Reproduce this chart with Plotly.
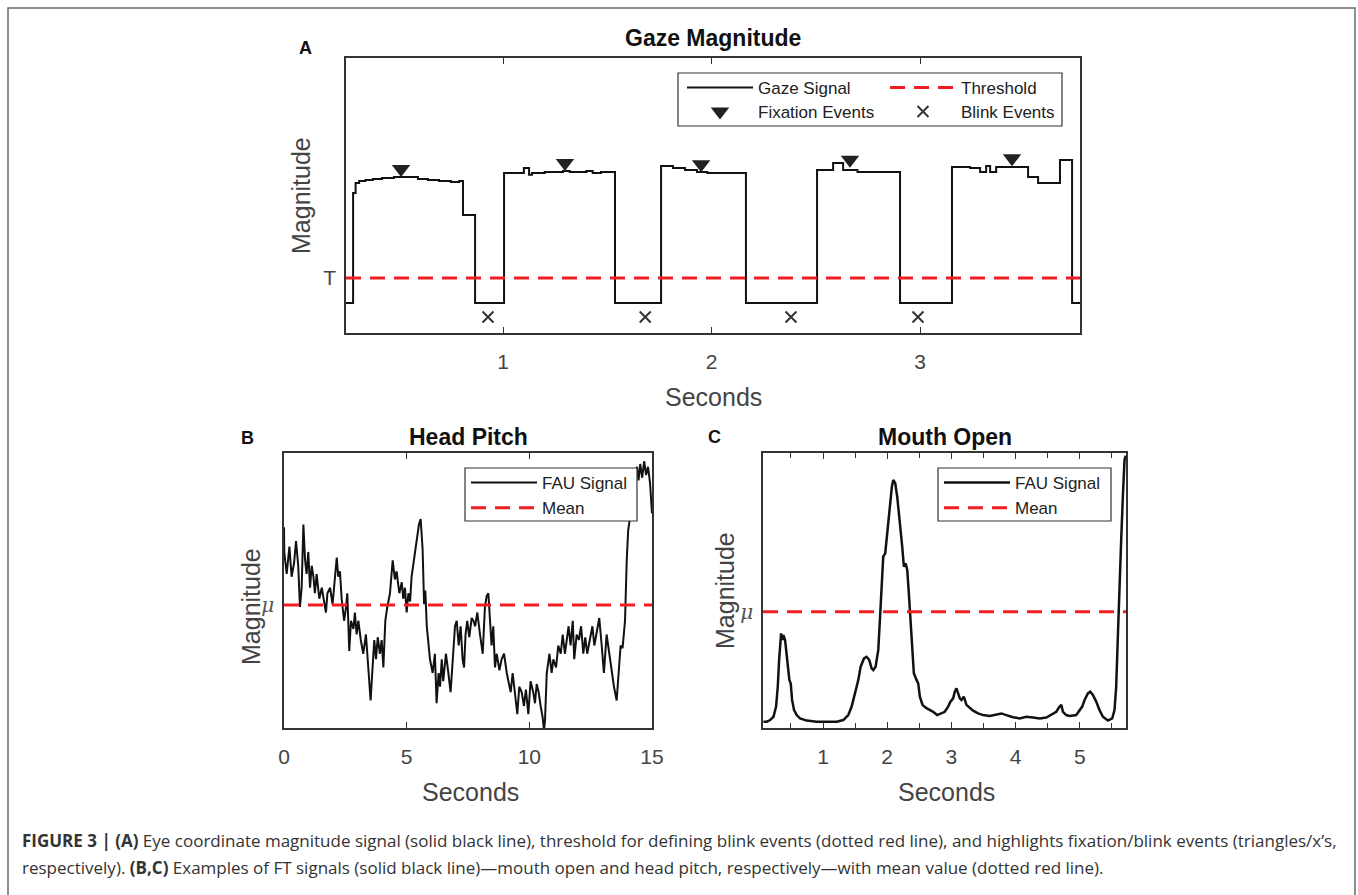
import plotly.graph_objects as go

W, H = 1358, 895

# ---------------- Panel A: Gaze Magnitude ----------------
gaze_t = [0.247, 0.281, 0.293, 0.310, 0.340, 0.376, 0.420, 0.477, 0.520, 0.592, 0.640,
          0.693, 0.750, 0.790, 0.808, 0.866, 1.005, 1.100, 1.125, 1.139, 1.200, 1.288,
          1.320, 1.400, 1.430, 1.470, 1.537, 1.758, 1.815, 1.873, 1.930, 1.980, 2.165,
          2.506, 2.583, 2.631, 2.700, 2.904, 3.153, 3.240, 3.288, 3.317, 3.336, 3.365,
          3.451, 3.518, 3.566, 3.671, 3.729, 3.767]
gaze_v = [10.9, 50.9, 54.5, 55.3, 55.6, 56.0, 56.4, 56.7, 56.7, 56.0, 55.6,
          55.3, 54.9, 55.3, 42.9, 10.9, 58.2, 60.0, 57.5, 58.2, 58.5, 58.9,
          58.5, 58.9, 58.2, 58.5, 10.9, 60.7, 60.0, 59.3, 58.5, 58.2, 10.9,
          59.3, 61.8, 59.3, 58.5, 10.9, 60.4, 60.0, 58.5, 60.7, 58.5, 60.4,
          60.4, 56.7, 54.5, 62.9, 10.9, 10.9]
gaze_threshold = 20.0
fixation_t = [0.511, 1.297, 1.950, 2.664, 3.441]
fixation_v = [59.6, 61.8, 61.4, 63.0, 63.5]
blink_t = [0.928, 1.682, 2.381, 2.990]
blink_v = [5.8, 5.8, 5.8, 5.8]
a_xrange = [0.247, 3.767]
a_xticks = [1, 2, 3]

# ---------------- Panel B: Head Pitch ----------------
pitch_t = [0.00, 0.01, 0.11, 0.22, 0.31, 0.41, 0.49, 0.58, 0.65, 0.72, 0.79, 0.86, 0.92, 0.99,
           1.06, 1.13, 1.20, 1.26, 1.33, 1.44, 1.54, 1.60, 1.71, 1.77, 1.88, 1.98, 2.08, 2.15,
           2.21, 2.28, 2.35, 2.45, 2.53, 2.58, 2.66, 2.73, 2.83, 2.89, 2.96, 3.03, 3.13, 3.23,
           3.34, 3.44, 3.53, 3.61, 3.68, 3.75, 3.82, 3.91, 3.98, 4.05, 4.13, 4.21, 4.32, 4.43,
           4.52, 4.59, 4.70, 4.80, 4.86, 4.93, 5.00, 5.07, 5.14, 5.20, 5.30, 5.41, 5.50, 5.57,
           5.65, 5.71, 5.76, 5.82, 5.88, 5.95, 6.06, 6.15, 6.22, 6.30, 6.36, 6.43, 6.49, 6.60,
           6.70, 6.79, 6.88, 6.97, 7.04, 7.12, 7.20, 7.28, 7.34, 7.40, 7.47, 7.55, 7.65, 7.72,
           7.79, 7.88, 7.99, 8.10, 8.19, 8.26, 8.33, 8.40, 8.46, 8.53, 8.60, 8.67, 8.78, 8.87,
           8.97, 9.08, 9.16, 9.24, 9.32, 9.42, 9.51, 9.59, 9.69, 9.78, 9.86, 9.96, 10.05, 10.16,
           10.23, 10.30, 10.38, 10.46, 10.54, 10.60, 10.64, 10.71, 10.82, 10.91, 10.98, 11.09,
           11.18, 11.28, 11.36, 11.45, 11.52, 11.60, 11.68, 11.77, 11.83, 11.93, 12.02, 12.11,
           12.20, 12.28, 12.36, 12.47, 12.57, 12.65, 12.74, 12.85, 12.95, 13.04, 13.15, 13.25,
           13.36, 13.45, 13.56, 13.65, 13.72, 13.80, 13.90, 13.97, 14.03, 14.13, 14.24, 14.32,
           14.39, 14.45, 14.52, 14.60, 14.68, 14.76, 14.84, 14.92, 15.00]
pitch_v = [73, 64, 56, 66, 55, 60, 68, 59, 44, 51, 74, 61, 56, 64,
           51, 59, 55, 49, 56, 47, 51, 48, 42, 49, 51, 45, 56, 62,
           55, 57, 47, 39, 44, 49, 28, 39, 36, 42, 34, 39, 32, 27,
           34, 20, 10, 22, 32, 25, 33, 27, 32, 22, 39, 44, 49, 61,
           54, 57, 49, 53, 47, 51, 42, 49, 46, 55, 61, 68, 74, 76,
           65, 45, 50, 37, 30, 25, 20, 27, 9, 20, 15, 25, 17, 27,
           20, 13, 25, 37, 39, 30, 37, 25, 22, 34, 39, 33, 40, 39,
           37, 42, 34, 27, 44, 48, 49, 39, 30, 37, 22, 27, 21, 25,
           27, 20, 17, 13, 20, 11, 5, 15, 13, 8, 14, 5, 17, 13,
           9, 16, 13, 8, 4, -1, 3, 20, 27, 20, 25, 22,
           30, 27, 34, 27, 32, 37, 30, 39, 25, 34, 32, 37,
           27, 33, 27, 33, 37, 30, 34, 40, 30, 20, 34, 27,
           20, 15, 10, 22, 30, 29, 39, 61, 72, 78, 86, 92,
           95, 90, 96, 91, 97, 92, 95, 89, 78]
pitch_mean = 44.7
b_xrange = [0, 15]
b_xticks = [0, 5, 10, 15]

# ---------------- Panel C: Mouth Open ----------------
mouth_t = [0.072, 0.124, 0.176, 0.228, 0.269, 0.295, 0.316, 0.331, 0.347, 0.368, 0.383, 0.409,
           0.435, 0.461, 0.476, 0.497, 0.518, 0.549, 0.590, 0.642, 0.746, 0.902, 1.057, 1.213,
           1.316, 1.394, 1.446, 1.498, 1.550, 1.586, 1.612, 1.638, 1.679, 1.721, 1.757, 1.783,
           1.819, 1.861, 1.897, 1.938, 1.969, 2.006, 2.042, 2.073, 2.094, 2.125, 2.156, 2.182,
           2.208, 2.234, 2.260, 2.286, 2.312, 2.337, 2.363, 2.389, 2.415, 2.457, 2.483, 2.509,
           2.550, 2.612, 2.716, 2.778, 2.846, 2.897, 2.949, 2.985, 3.027, 3.053, 3.079, 3.105,
           3.131, 3.157, 3.193, 3.234, 3.286, 3.338, 3.416, 3.494, 3.597, 3.675, 3.779, 3.856,
           3.960, 4.064, 4.167, 4.271, 4.375, 4.478, 4.556, 4.634, 4.686, 4.712, 4.738, 4.790,
           4.841, 4.945, 5.038, 5.075, 5.126, 5.163, 5.204, 5.256, 5.308, 5.360, 5.438, 5.505,
           5.541, 5.567, 5.593, 5.619, 5.645, 5.671, 5.697, 5.715]
mouth_v = [2.3, 2.3, 2.9, 4.1, 7.8, 15.0, 24.7, 32.0, 34.4, 32.0, 33.8, 32.0,
           27.2, 22.3, 17.5, 16.2, 10.2, 6.5, 4.7, 3.5, 2.7, 2.3, 2.2, 2.3,
           2.9, 4.7, 7.8, 12.6, 17.5, 22.3, 23.5, 25.3, 25.9, 24.7, 21.7, 21.1,
           22.3, 28.4, 44.1, 62.3, 63.5, 72.0, 81.7, 87.8, 90.2, 89.0, 84.1, 76.8,
           72.0, 65.9, 58.7, 59.9, 57.5, 49.0, 39.3, 29.6, 19.9, 17.5, 16.2, 11.4,
           8.4, 7.2, 5.9, 4.7, 5.3, 5.9, 7.8, 9.6, 10.8, 13.2, 14.4, 12.6,
           10.8, 10.2, 11.4, 8.4, 7.2, 6.3, 5.3, 4.7, 4.4, 4.7, 5.3, 4.7,
           3.9, 3.5, 4.1, 3.8, 3.5, 3.8, 4.7, 5.9, 7.8, 8.4, 5.9, 4.7,
           4.4, 4.7, 7.8, 10.2, 12.6, 13.2, 12.0, 9.6, 6.5, 4.1, 2.7, 3.5,
           6.5, 15.0, 33.2, 55.0, 68.4, 84.1, 97.5, 99.0]
mouth_mean = 42.3
c_xrange = [0.065, 5.72]
c_xticks = [1, 2, 3, 4, 5]

# ---------------- styling helpers ----------------
FONT = "Liberation Sans, Arial, Helvetica, sans-serif"
CAPTION_FONT = "Open Sans, Liberation Sans, sans-serif"
AX = "#333333"
RED = "#f01e23"


def px_x(p):
    return p / W


def px_y(p):
    return 1 - p / H


fig = go.Figure()

# Panel A traces
fig.add_trace(go.Scatter(x=gaze_t, y=gaze_v, mode="lines", line=dict(color="#111", width=2, shape="hv"),
                         name="Gaze Signal", xaxis="x", yaxis="y", legend="legend"))
fig.add_trace(go.Scatter(x=a_xrange, y=[gaze_threshold, gaze_threshold], mode="lines",
                         line=dict(color=RED, width=3, dash="15px,9px"),
                         name="Threshold", xaxis="x", yaxis="y", legend="legend"))
fig.add_trace(go.Scatter(x=fixation_t, y=fixation_v, mode="markers",
                         marker=dict(symbol="triangle-down", size=16, color="#222"),
                         name="Fixation Events", xaxis="x", yaxis="y", legend="legend2"))
fig.add_trace(go.Scatter(x=blink_t, y=blink_v, mode="markers",
                         marker=dict(symbol="x-thin", size=11, line=dict(color="#333", width=2)),
                         name="Blink Events", xaxis="x", yaxis="y", legend="legend2"))

# Panel B traces
fig.add_trace(go.Scatter(x=pitch_t, y=pitch_v, mode="lines", line=dict(color="#111", width=2),
                         name="FAU Signal", xaxis="x2", yaxis="y2", legend="legend3"))
fig.add_trace(go.Scatter(x=b_xrange, y=[pitch_mean, pitch_mean], mode="lines",
                         line=dict(color=RED, width=3, dash="15px,9px"),
                         name="Mean", xaxis="x2", yaxis="y2", legend="legend3"))

# Panel C traces
fig.add_trace(go.Scatter(x=mouth_t, y=mouth_v, mode="lines", line=dict(color="#111", width=2.5),
                         name="FAU Signal", xaxis="x3", yaxis="y3", legend="legend4"))
fig.add_trace(go.Scatter(x=c_xrange, y=[mouth_mean, mouth_mean], mode="lines",
                         line=dict(color=RED, width=3, dash="15px,9px"),
                         name="Mean", xaxis="x3", yaxis="y3", legend="legend4"))


def xax(domain, rng, ticks, anchor, minor=None):
    d = dict(domain=domain, range=rng, tickvals=ticks, ticks="inside", ticklen=6, tickwidth=1.2,
             tickcolor=AX, showline=True, linecolor=AX, linewidth=1.5, mirror="ticks",
             showgrid=False, zeroline=False, anchor=anchor, ticklabelstandoff=9,
             tickfont=dict(family=FONT, size=21, color="#444"))
    if minor:
        d["minor"] = minor
    return d


def yax(domain, tickval, ticktext, anchor, tickfont):
    return dict(domain=domain, range=[0, 100], tickvals=[tickval], ticktext=[ticktext], ticks="",
                showline=True, linecolor=AX, linewidth=1.5, mirror=True, showgrid=False,
                zeroline=False, anchor=anchor, tickfont=tickfont, ticklabelstandoff=4)


a_dom_x = [px_x(346), px_x(1080)]
a_dom_y = [px_y(333), px_y(58)]
b_dom_x = [px_x(284), px_x(652)]
c_dom_x = [px_x(763), px_x(1126)]
bc_dom_y = [px_y(728), px_y(453)]

mu_font = dict(family="DejaVu Serif, serif", size=20, color="#555")

layout = dict(
    width=W, height=H, margin=dict(l=0, r=0, t=0, b=0, autoexpand=False),
    paper_bgcolor="white", plot_bgcolor="white",
    xaxis=xax(a_dom_x, a_xrange, a_xticks, "y"),
    yaxis=yax(a_dom_y, gaze_threshold, "T", "x", dict(family=FONT, size=21, color="#444")),
    xaxis2=xax(b_dom_x, b_xrange, b_xticks, "y2"),
    yaxis2=yax(bc_dom_y, pitch_mean, "<i>μ</i>", "x2", mu_font),
    xaxis3=xax(c_dom_x, c_xrange, c_xticks, "y3",
               minor=dict(dtick=0.5, ticks="inside", ticklen=5, tickcolor=AX)),
    yaxis3=yax(bc_dom_y, mouth_mean, "<i>μ</i>", "x3", mu_font),
)

leg_common = dict(font=dict(family=FONT, size=17, color="#222"), itemwidth=66,
                  xanchor="left", yanchor="middle", itemclick=False, itemdoubleclick=False,
                  bgcolor="rgba(0,0,0,0)", borderwidth=0)
layout["legend"] = dict(leg_common, orientation="h", x=px_x(682), y=px_y(88),
                        entrywidth=122, entrywidthmode="pixels")
layout["legend2"] = dict(leg_common, orientation="h", x=px_x(682), y=px_y(112),
                         entrywidth=122, entrywidthmode="pixels")
layout["legend3"] = dict(leg_common, orientation="v", x=px_x(466), y=px_y(495.5))
layout["legend4"] = dict(leg_common, orientation="v", x=px_x(939), y=px_y(495.5))


def frame(x0, y0, x1, y1, layer="above", color=AX, width=1.2, fill="white"):
    return dict(type="rect", xref="paper", yref="paper", x0=px_x(x0), x1=px_x(x1),
                y0=px_y(y1), y1=px_y(y0), line=dict(color=color, width=width),
                fillcolor=fill, layer=layer)


layout["shapes"] = [
    frame(678, 73, 1062, 126),           # legend frame, panel A
    frame(465, 468, 637, 521),           # legend frame, panel B
    frame(938, 468, 1111, 521),          # legend frame, panel C
    frame(8, 8, 1355, 905, layer="below", color="#6b6b6b", width=1.5, fill="rgba(0,0,0,0)"),
]


def ann(text, x, y, size, color="#111", bold=False, angle=0, xanchor="center", family=FONT):
    return dict(text=f"<b>{text}</b>" if bold else text, x=px_x(x), y=px_y(y), xref="paper",
                yref="paper", showarrow=False, xanchor=xanchor, yanchor="middle",
                textangle=angle, font=dict(family=family, size=size, color=color))


layout["annotations"] = [
    ann("Gaze Magnitude", 713, 38, 23, bold=True),
    ann("Head Pitch", 468, 437, 23, bold=True),
    ann("Mouth Open", 945, 437, 23, bold=True),
    ann("A", 305, 48, 18, bold=True),
    ann("B", 247, 438, 18, bold=True),
    ann("C", 714, 437, 18, bold=True),
    ann("Magnitude", 301, 196, 25, color="#444", angle=-90),
    ann("Magnitude", 251, 607, 25, color="#444", angle=-90),
    ann("Magnitude", 725, 591, 25, color="#444", angle=-90),
    ann("Seconds", 713, 397, 25, color="#444"),
    ann("Seconds", 470, 792, 25, color="#444"),
    ann("Seconds", 946, 792, 25, color="#444"),
    ann("<b>FIGURE 3 | (A)</b> Eye coordinate magnitude signal (solid black line), threshold for "
        "defining blink events (dotted red line), and highlights fixation/blink events (triangles/x’s,",
        20, 840, 17, color="#333", xanchor="left", family=CAPTION_FONT),
    ann("respectively). <b>(B,C)</b> Examples of FT signals (solid black line)—mouth open and head "
        "pitch, respectively—with mean value (dotted red line).",
        20, 867, 17, color="#333", xanchor="left", family=CAPTION_FONT),
]

fig.update_layout(**layout)
fig.write_html(
    "out.html",
    config={"displayModeBar": False},
    post_script=("document.documentElement.style.overflow='hidden';"
                 "document.body.style.overflow='hidden';document.body.style.margin='0';"),
)
